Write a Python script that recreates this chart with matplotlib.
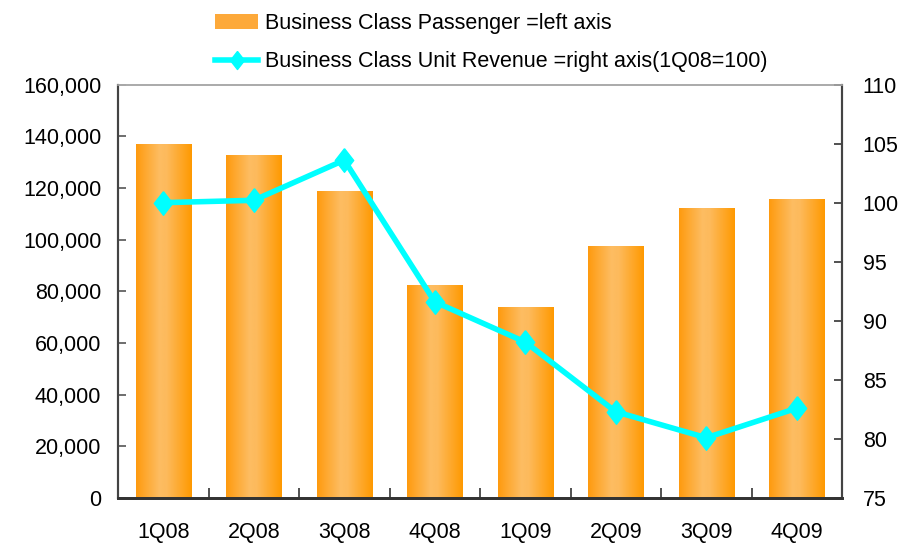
import numpy as np
import matplotlib
matplotlib.use("Agg")
import matplotlib.pyplot as plt
from matplotlib.colors import LinearSegmentedColormap
from matplotlib.lines import Line2D
from matplotlib.patches import Patch

plt.rcParams['font.family'] = ['Liberation Sans', 'DejaVu Sans']

categories = ["1Q08", "2Q08", "3Q08", "4Q08", "1Q09", "2Q09", "3Q09", "4Q09"]
passengers = [136800, 132600, 118700, 82300, 73800, 97400, 112100, 115600]
unit_revenue = [100.0, 100.2, 103.6, 91.6, 88.2, 82.3, 80.1, 82.6]
left_ticks = [0, 20000, 40000, 60000, 80000, 100000, 120000, 140000, 160000]
right_ticks = [75, 80, 85, 90, 95, 100, 105, 110]
bar_label = "Business Class Passenger =left axis"
line_label = "Business Class Unit Revenue =right axis(1Q08=100)"

FS = 15.5

fig = plt.figure(figsize=(9.10, 5.46), dpi=100)
ax = fig.add_axes([0.1297, 0.0879, 0.7956, 0.7573])
ax2 = ax.twinx()

x = np.arange(len(categories))
cmap = LinearSegmentedColormap.from_list(
    "barg", [(0.0, "#FF9A0E"), (0.42, "#FDBD62"), (0.55, "#FDBA5C"), (1.0, "#FF9900")])
bars = ax.bar(x, passengers, width=0.61, color="#FDB04A", zorder=2)
grad = np.linspace(0, 1, 256).reshape(1, -1)
for b in bars:
    im = ax.imshow(grad, cmap=cmap, aspect="auto",
                   extent=[b.get_x(), b.get_x() + b.get_width(), 0, b.get_height()],
                   zorder=2.1, interpolation="bilinear")
    im.set_clip_path(b)

ax.set_xlim(-0.5, len(categories) - 0.5)
ax.set_ylim(0, 160000)
ax.set_yticks(left_ticks)
ax.set_yticklabels([f"{v:,}" for v in left_ticks])
ax.set_xticks(x)
ax.set_xticklabels(categories)
ax.set_xticks(np.arange(len(categories) + 1) - 0.5, minor=True)
ax.tick_params(axis="x", which="major", length=0, pad=17, labelsize=FS)
ax.tick_params(axis="x", which="minor", direction="in", length=7, width=1.2, color="#333333")
ax.tick_params(axis="y", direction="in", length=6, width=1.2, color="#555555", pad=12, labelsize=FS)

marker_verts = [(0, 1), (0.78, 0), (0, -1), (-0.78, 0), (0, 1)]
ax2.plot(x, unit_revenue, color="#00FFFF", lw=4, marker=marker_verts,
         markersize=17, markeredgecolor="#00FFFF", markerfacecolor="#00FFFF", zorder=5)
ax2.set_ylim(75, 110)
ax2.set_yticks(right_ticks)
ax2.tick_params(axis="y", direction="in", length=6, width=1.2, color="#333333", pad=15, labelsize=FS)

for a in (ax, ax2):
    a.spines["top"].set_color("#AAAAAA")
    a.spines["top"].set_linewidth(1.2)
    a.spines["left"].set_color("#444444")
    a.spines["left"].set_linewidth(1.5)
    a.spines["right"].set_color("#444444")
    a.spines["right"].set_linewidth(1.5)
    a.spines["bottom"].set_color("#333333")
    a.spines["bottom"].set_linewidth(2)

handles = [Patch(facecolor="#FDA93A", edgecolor="none"),
           Line2D([0], [0], color="#00FFFF", lw=4, marker=marker_verts,
                  markersize=13, markerfacecolor="#00FFFF", markeredgecolor="#00FFFF")]
fig.legend(handles, [bar_label, line_label], loc="upper left",
           bbox_to_anchor=(0.215, 1.012), frameon=False, fontsize=FS,
           handlelength=2.0, handletextpad=0.3, labelspacing=0.8)

fig.savefig("out.png", dpi=100)
